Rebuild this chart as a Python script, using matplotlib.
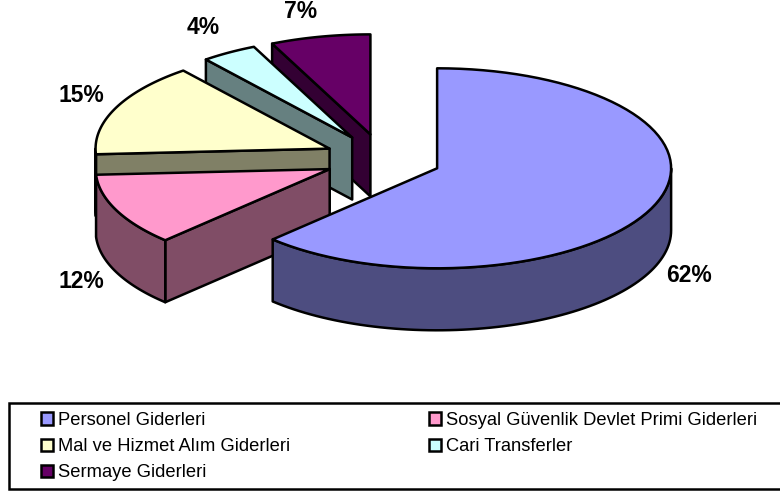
import numpy as np
import matplotlib
matplotlib.use('Agg')
import matplotlib.pyplot as plt
from matplotlib.colors import to_rgb
from matplotlib.patches import Patch, Polygon, Rectangle

plt.rcParams['font.family'] = ['Liberation Sans', 'DejaVu Sans']

# data
categories = ['Personel Giderleri', 'Sosyal Güvenlik Devlet Primi Giderleri',
              'Mal ve Hizmet Alım Giderleri', 'Cari Transferler', 'Sermaye Giderleri']
shares = [62.4, 11.7, 15.15, 3.85, 6.9]
colors = ['#9999FF', '#FF99CC', '#FFFFCC', '#CCFFFF', '#660066']
legend_order = [0, 2, 4, 1, 3]

# pie geometry in pixels
CENTER = (383.0, 158.8)
RX, RY = 234, 100
DEPTH = 62
EXPLODE = 0.25
LW = 1.8

# percent label positions
label_pos = [(689, 276), (81, 281), (81, 96), (203, 27), (301, 11)]


def point(c, a, dy=0):
    return c[0] + RX * np.cos(a), c[1] - RY * np.sin(a) + dy


def arc(c, a1, a2, dy=0):
    t = np.linspace(a1, a2, 80)
    return np.column_stack(point(c, t, dy))


def add_poly(ax, pts, color):
    ax.add_patch(Polygon(pts, closed=True, facecolor=color, edgecolor='black',
                         linewidth=LW, joinstyle='round'))


fig = plt.figure(figsize=(7.8, 4.92), dpi=100)
ax = fig.add_axes([0, 0, 1, 1])
ax.set_xlim(0, 780)
ax.set_ylim(492, 0)
ax.axis('off')

# slice angles, clockwise from 12 o'clock
ends = np.cumsum(shares) / sum(shares) * 2 * np.pi
starts = np.pi / 2 - np.concatenate([[0], ends[:-1]])
stops = np.pi / 2 - ends

# draw from the back slice to the front one
for i in range(len(shares) - 1, -1, -1):
    a1, a2 = starts[i], stops[i]
    mid = (a1 + a2) / 2
    c = point(CENTER, mid)
    c = (CENTER[0] + EXPLODE * (c[0] - CENTER[0]), CENTER[1] + EXPLODE * (c[1] - CENTER[1]))
    dark = tuple(v * 0.5 for v in to_rgb(colors[i]))

    # cut faces turned towards the viewer
    for a, show in ((a1, np.cos(a1) < 0), (a2, np.cos(a2) > 0)):
        if show:
            p = point(c, a)
            add_poly(ax, [c, p, (p[0], p[1] + DEPTH), (c[0], c[1] + DEPTH)], dark)

    # outer rim, only the lower half of the ellipse shows
    for shift in (0, -2 * np.pi):
        lo, hi = max(a2, -np.pi + shift), min(a1, shift)
        if hi > lo:
            add_poly(ax, np.vstack([arc(c, hi, lo), arc(c, lo, hi, DEPTH)]), dark)

    add_poly(ax, np.vstack([[c], arc(c, a1, a2)]), colors[i])

for v, pos in zip(shares, label_pos):
    ax.text(pos[0], pos[1], f'{round(v)}%', ha='center', va='center',
            fontsize=16.5, fontweight='bold', color='black')

# legend box, its right side runs off the picture
ax.add_patch(Rectangle((9, 403), 785, 86, facecolor='white', edgecolor='black', linewidth=LW))
handles = [Patch(facecolor=colors[i], edgecolor='black', linewidth=LW) for i in legend_order]
ax.legend(handles, [categories[i] for i in legend_order], ncol=2, frameon=False,
          loc='upper left', bbox_to_anchor=(41 / 780, 1 - 412 / 492), borderaxespad=0, borderpad=0,
          fontsize=13.2, handlelength=0.66, handleheight=0.66, handletextpad=0.27,
          labelspacing=0.5, columnspacing=7.55)

fig.savefig('out.png', dpi=100)
